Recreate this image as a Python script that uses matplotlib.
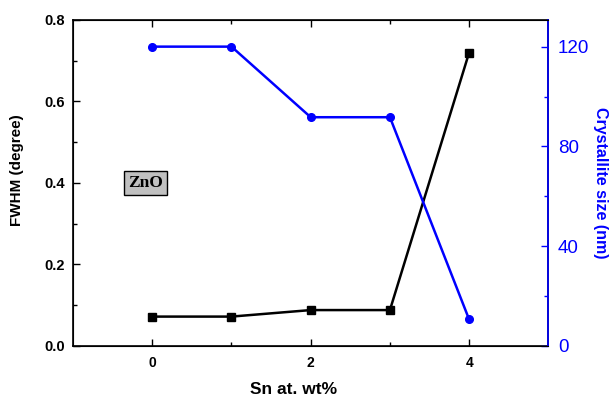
import matplotlib
matplotlib.use("Agg")
import matplotlib.pyplot as plt

sn_content = [0, 1, 2, 3, 4]
fwhm = [0.072, 0.072, 0.088, 0.088, 0.72]
crystallite_size = [120, 120, 91.7, 91.7, 10.6]

left_ticks = [0.0, 0.2, 0.4, 0.6, 0.8]
right_ticks = [0, 40, 80, 120]
x_ticks = [0, 2, 4]

plt.rcParams["font.family"] = ["Liberation Sans", "DejaVu Sans"]

fig = plt.figure(figsize=(6.11, 3.99), dpi=100)
ax = fig.add_axes([0.1195, 0.133, 0.778, 0.817])

ax.plot(sn_content, fwhm, color="black", lw=1.8, marker="s", ms=5.5, zorder=3)
ax.set_xlim(-1, 5)
ax.set_ylim(0, 0.8)
ax.set_xticks(x_ticks)
ax.set_xticks([1, 3], minor=True)
ax.set_yticks(left_ticks)
ax.set_yticks([0.1, 0.3, 0.5, 0.7], minor=True)
ax.set_yticklabels([f"{v:.1f}" for v in left_ticks], fontweight="bold", fontsize=10.5)
ax.set_xticklabels([str(v) for v in x_ticks], fontweight="bold", fontsize=10)
ax.tick_params(axis="both", which="both", direction="in", top=True, length=5, width=1)
ax.tick_params(axis="both", which="minor", length=3)
ax.tick_params(axis="x", pad=7)
ax.tick_params(axis="y", pad=6)
ax.set_xlabel("Sn at. wt%", fontweight="bold", fontsize=12.5)
ax.set_ylabel("FWHM (degree)", fontweight="bold", fontsize=11)
ax.xaxis.set_label_coords(0.463, -0.11)
ax.yaxis.set_label_coords(-0.103, 0.54)
for s in ax.spines.values():
    s.set_linewidth(1.2)

ax2 = ax.twinx()
ax2.plot(sn_content, crystallite_size, color="#0000ff", lw=1.8, marker="o", ms=5.5, zorder=3)
ax2.set_ylim(0, 130.7)
ax2.set_yticks(right_ticks)
ax2.set_yticks([20, 60, 100], minor=True)
ax2.set_yticklabels([str(v) for v in right_ticks], color="#0000ff", fontsize=13.5)
ax2.tick_params(axis="y", which="both", direction="in", colors="#0000ff", length=5, width=1, pad=7)
ax2.tick_params(axis="y", which="minor", length=3)
ax2.spines["right"].set_color("#0000ff")
ax2.spines["right"].set_linewidth(1.2)
ax2.set_ylabel("Crystallite size (nm)", color="#0000ff", fontweight="bold",
               fontsize=11.5, rotation=270, labelpad=13)

ax.text(-0.084, 0.40, "ZnO", fontfamily="Liberation Serif", fontweight="bold",
        fontsize=12.5, ha="center", va="center",
        bbox=dict(boxstyle="square,pad=0.25", facecolor="#c0c0c0",
                  edgecolor="black", linewidth=1))

fig.savefig("out.png", dpi=100)
